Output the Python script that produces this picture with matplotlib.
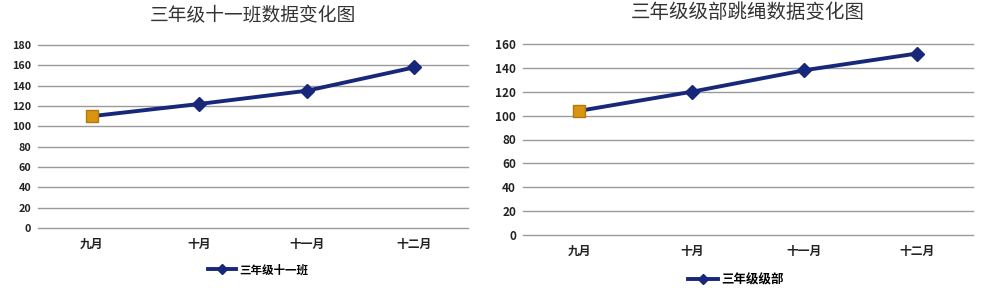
import matplotlib
matplotlib.use("Agg")
import matplotlib.pyplot as plt
from matplotlib.lines import Line2D

plt.rcParams['font.family'] = ['Noto Sans CJK SC', 'DejaVu Sans']

months = ["九月", "十月", "十一月", "十二月"]
left_title = "三年级十一班数据变化图"
left_series = "三年级十一班"
left_values = [110, 122, 135, 158]
left_ticks = [0, 20, 40, 60, 80, 100, 120, 140, 160, 180]

right_title = "三年级级部跳绳数据变化图"
right_series = "三年级级部"
right_values = [104, 120, 138, 152]
right_ticks = [0, 20, 40, 60, 80, 100, 120, 140, 160]

line_color = "#17287a"
first_color = "#d9950f"
grid_color = "#9a9a9a"

W, H = 993, 290
fig = plt.figure(figsize=(W / 100, H / 100), dpi=100)

def make(ax_rect, title, series, values, ticks, title_y, title_fs, tick_fs,
         legend_y, legend_x, legend_fs):
    l, t, r, b = ax_rect
    ax = fig.add_axes([l / W, 1 - b / H, (r - l) / W, (b - t) / H])
    x = list(range(len(months)))
    ax.plot(x, values, color=line_color, lw=2.8, marker="D", ms=7,
            markevery=list(range(1, len(months))),
            markerfacecolor=line_color, markeredgecolor=line_color, zorder=3)
    ax.plot([x[0]], [values[0]], marker="s", ms=9, color=first_color,
            markeredgecolor="#b07810", zorder=4, ls="none")
    ax.set_xlim(-0.5, len(months) - 0.5)
    ax.set_ylim(ticks[0], ticks[-1])
    ax.set_yticks(ticks)
    ax.set_yticklabels([str(v) for v in ticks], fontsize=tick_fs,
                       fontweight="bold", color="#222222")
    ax.set_xticks(x)
    ax.set_xticklabels(months, fontsize=8.5, fontweight="bold", color="#222222")
    ax.tick_params(axis="y", length=0, pad=5)
    ax.tick_params(axis="x", length=0, pad=7)
    for s in ax.spines.values():
        s.set_visible(False)
    ax.yaxis.grid(True, color=grid_color, lw=1)
    ax.set_axisbelow(True)
    for gl in ax.get_ygridlines():
        gl.set_clip_on(False)
    fig.text((l + r) / 2 / W, 1 - title_y / H, title, ha="center", va="center",
             fontsize=title_fs, color="#333333")
    handle = Line2D([], [], color=line_color, lw=2.8, marker="D", ms=5.5,
                    markerfacecolor=line_color)
    fig.legend([handle], [series], loc="center", frameon=False,
               bbox_to_anchor=(legend_x / W, 1 - legend_y / H),
               prop={"size": legend_fs, "weight": "bold"}, handlelength=2.4,
               handletextpad=0.3)
    return ax

make((38, 45, 468, 228), left_title, left_series, left_values, left_ticks,
     15, 13.5, 7.8, 270, 258, 8.3)
make((523, 44, 973, 235), right_title, right_series, right_values, right_ticks,
     13, 14, 8.5, 280, 736, 9)

fig.savefig("out.png", dpi=100, facecolor="white")
